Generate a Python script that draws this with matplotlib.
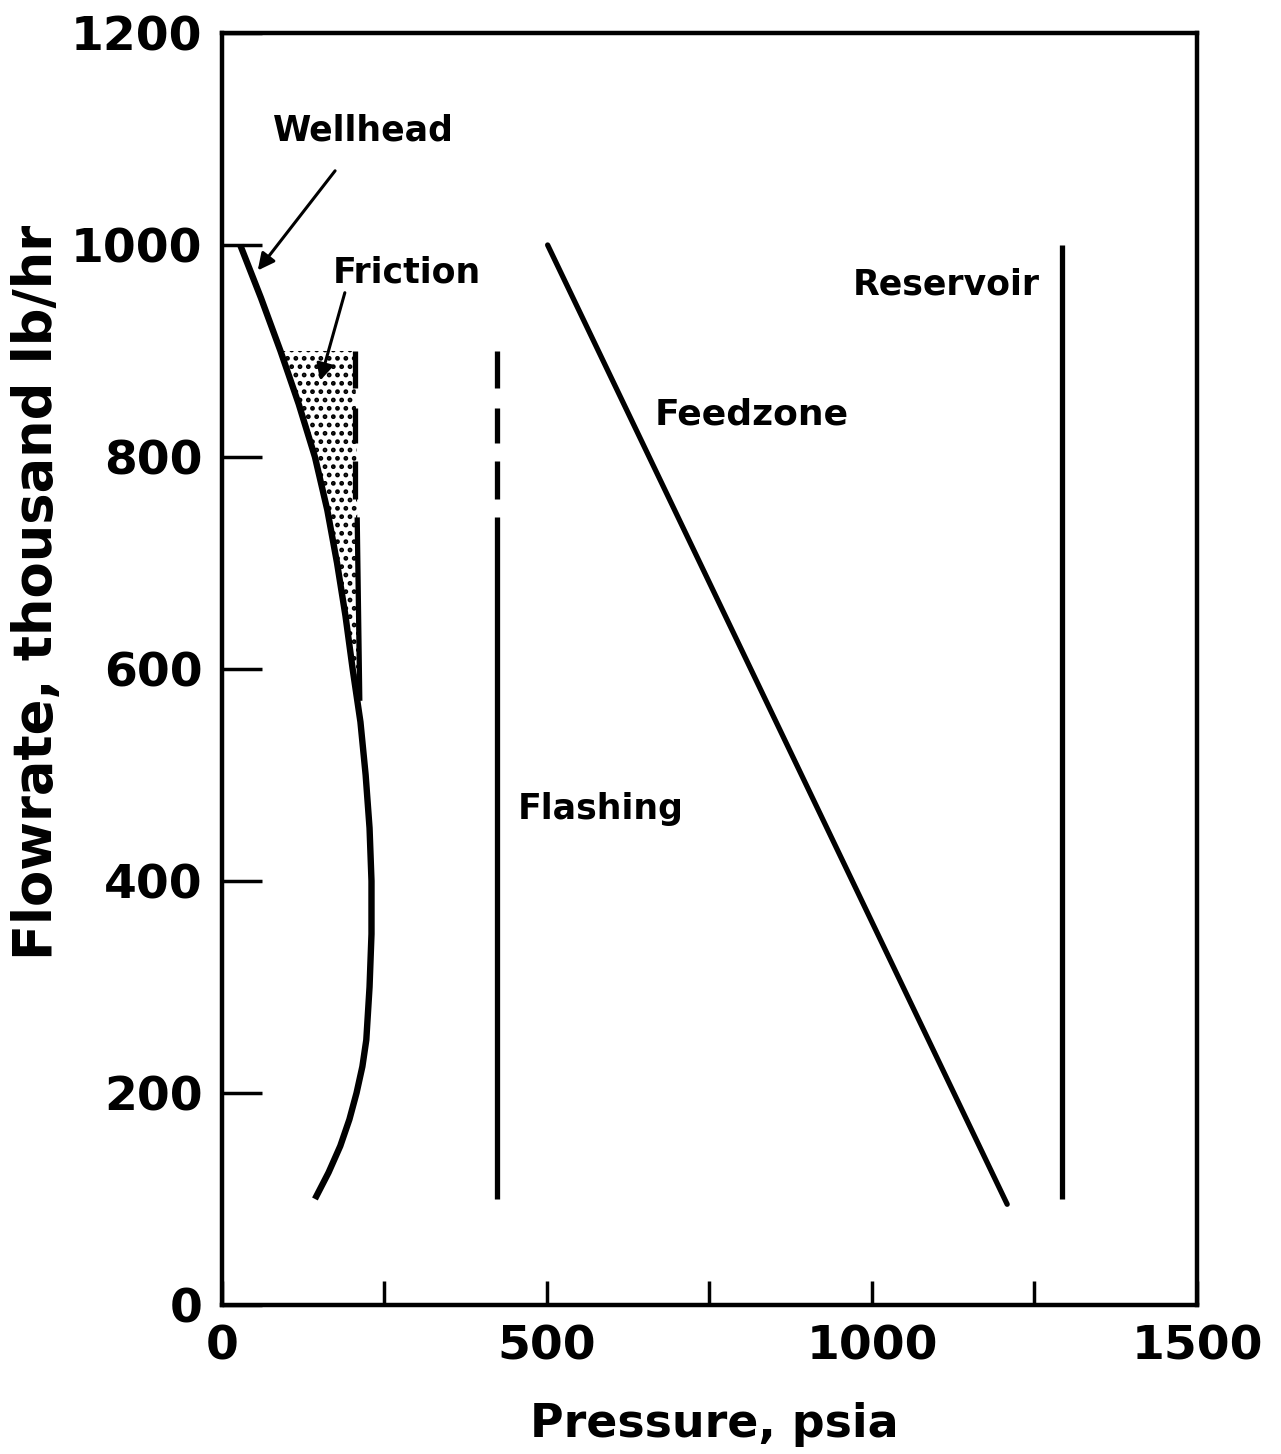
import matplotlib.pyplot as plt
import numpy as np

# wellhead pressure vs flowrate
wellhead_y = [1000, 950, 900, 850, 800, 750, 700, 650, 600, 550, 500, 450, 400, 350, 300, 250, 225, 200,
              175, 150, 125, 100]
wellhead_p = [28, 60, 90, 118, 143, 162, 177, 190, 201, 213, 221, 227, 230, 230, 227, 222, 216, 207,
              196, 182, 164, 143]

# friction zone (shaded), between wellhead curve and friction line
friction_y = [900, 850, 800, 750, 700, 650, 600, 570]
friction_left = [90, 118, 143, 162, 177, 190, 201, 208]
friction_right = [205, 206, 207, 208, 209, 210, 211, 212]
friction_dashes = [(900, 865), (846, 813), (796, 760)]

# flashing line
flash_p = 423
flash_dashes = [(900, 865), (846, 813), (796, 760)]
flash_solid = (743, 100)

# feedzone line
feed_p = [501, 1208]
feed_y = [1000, 95]

# reservoir line
res_p = 1292
res_y = (1000, 100)

plt.rcParams['font.family'] = 'DejaVu Sans'
plt.rcParams['font.weight'] = 'bold'
plt.rcParams['hatch.linewidth'] = 2.2

fig = plt.figure(figsize=(12.81, 14.54), dpi=100)
ax = fig.add_axes([0.1733, 0.1025, 0.7611, 0.8748])

ax.fill_betweenx(friction_y, friction_left, friction_right, facecolor='white',
                 edgecolor='black', hatch='..', linewidth=0)

ax.plot(wellhead_p, wellhead_y, color='black', lw=4.6, solid_capstyle='butt', solid_joinstyle='round')

# friction line: dashed top, solid lower part
for y0, y1 in friction_dashes:
    ax.plot([friction_right[0], friction_right[0]], [y0, y1], color='black', lw=3.8, solid_capstyle='butt')
ax.plot([friction_right[3], friction_right[-1]], [743, friction_y[-1]], color='black', lw=3.8,
        solid_capstyle='butt')

# flashing line
for y0, y1 in flash_dashes:
    ax.plot([flash_p, flash_p], [y0, y1], color='black', lw=3.8, solid_capstyle='butt')
ax.plot([flash_p, flash_p], flash_solid, color='black', lw=3.8, solid_capstyle='butt')

ax.plot(feed_p, feed_y, color='black', lw=3.8, solid_capstyle='round')
ax.plot([res_p, res_p], res_y, color='black', lw=3.8, solid_capstyle='butt')

# labels and arrows
ax.text(218, 1108, 'Wellhead', ha='center', va='center', fontsize=25, fontweight='bold')
ax.annotate('', xy=(55, 976), xytext=(174, 1070),
            arrowprops=dict(arrowstyle='-|>', color='black', lw=2.2, shrinkA=0, shrinkB=0,
                            mutation_scale=25))
ax.text(285, 974, 'Friction', ha='center', va='center', fontsize=25, fontweight='bold')
ax.annotate('', xy=(151, 872), xytext=(189, 955),
            arrowprops=dict(arrowstyle='-|>', color='black', lw=2.2, shrinkA=0, shrinkB=0,
                            mutation_scale=25))
ax.text(815, 840, 'Feedzone', ha='center', va='center', fontsize=26, fontweight='bold')
ax.text(582, 468, 'Flashing', ha='center', va='center', fontsize=25, fontweight='bold')
ax.text(1115, 963, 'Reservoir', ha='center', va='center', fontsize=25, fontweight='bold')

ax.set_xlim(0, 1500)
ax.set_ylim(0, 1200)
ax.set_xticks([0, 500, 1000, 1500])
ax.set_xticks([250, 750, 1250], minor=True)
ax.set_yticks(np.arange(0, 1201, 200))
ax.tick_params(axis='x', which='both', direction='in', length=17, width=2.5, labelsize=34, pad=14)
ax.tick_params(axis='y', which='both', direction='in', length=29, width=2.5, labelsize=34, pad=14)
for lab in ax.get_xticklabels() + ax.get_yticklabels():
    lab.set_fontweight('bold')
for s in ax.spines.values():
    s.set_linewidth(3.2)

ax.set_xlabel('Pressure, psia', fontsize=33, fontweight='bold')
ax.set_ylabel('Flowrate, thousand lb/hr', fontsize=38, fontweight='bold')
ax.xaxis.set_label_coords(0.505, -0.094)
ax.xaxis.label.set_verticalalignment('center')
ax.yaxis.set_label_coords(-0.19, 0.56)
ax.yaxis.label.set_verticalalignment('center')

fig.savefig('out.png', dpi=100)
